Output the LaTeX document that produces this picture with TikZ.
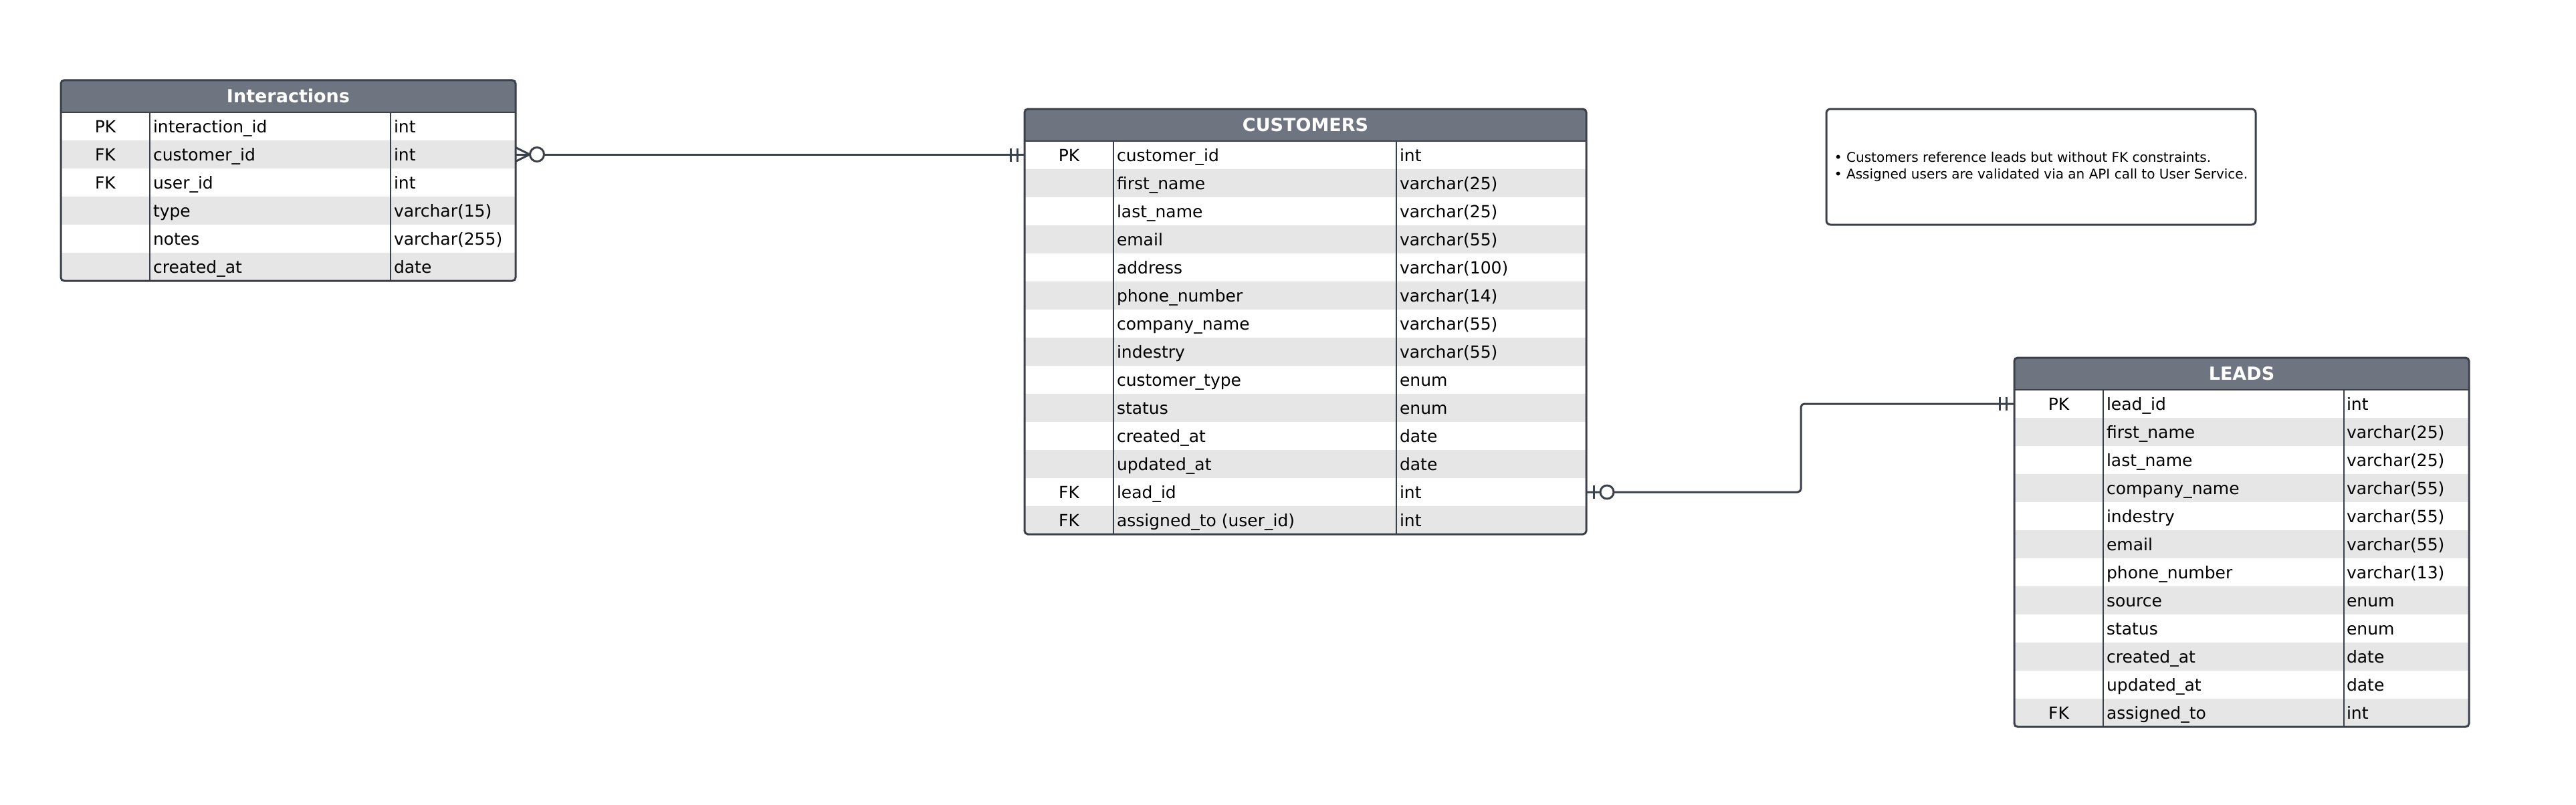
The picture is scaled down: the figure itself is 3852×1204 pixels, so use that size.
\documentclass[tikz,border=0pt]{standalone}
\usepackage{fontspec}
\setmainfont{DejaVu Sans}
\usetikzlibrary{positioning, calc}

\definecolor{hdrgray}{HTML}{6E7480}
\definecolor{edge}{HTML}{3B414B}
\definecolor{stripe}{HTML}{E6E6E6}

\begin{document}
\begin{tikzpicture}[x=1pt, y=-1pt,
    every node/.style={inner sep=0pt, outer sep=0pt},
    hdr/.style={fill=hdrgray, text=white, anchor=north west, minimum height=48pt,
        font=\fontsize{27pt}{32pt}\selectfont\bfseries, text height=19.7pt, text depth=0pt},
    band/.style={anchor=north, minimum height=42pt},
    cell/.style={font=\fontsize{25pt}{30pt}\selectfont, text height=18.2pt, text depth=0pt},
    fld/.style={cell, anchor=west},
    frame/.style={draw=edge, line width=3pt, rounded corners=5pt},
    colsep/.style={draw=edge, line width=2.4pt},
    rel/.style={draw=edge, line width=3pt, line join=round},
    note/.style={draw=edge, line width=3pt, rounded corners=6pt, minimum width=642pt,
        minimum height=173pt, align=left, font=\fontsize{20pt}{25.6pt}\selectfont}]

    \path[use as bounding box, fill=white] (0,0) rectangle (3852,1204);

    % Interactions
    \node[hdr, minimum width=680pt] (inter-0) at (91,120) {Interactions};
    \foreach \k/\f/\t [count=\i] in {PK/interaction\_id/int, FK/customer\_id/int,
        FK/user\_id/int, {}/type/varchar(15), {}/notes/varchar(255), {}/created\_at/date} {
        \pgfmathtruncatemacro\sh{100*(1-mod(\i,2))}
        \node[band, minimum width=680pt, fill=stripe!\sh!white] (inter-\i)
            at ([yshift={-42pt*(\i-1)}]inter-0.south) {};
        \node[cell] (inter-\i-k) at ([xshift=66.5pt]inter-\i.west) {\k};
        \node[fld] (inter-\i-f) at ([xshift=138pt]inter-\i.west) {\f};
        \node[fld] (inter-\i-t) at ([xshift=498pt]inter-\i.west) {\t};
    }
    \draw[colsep] (inter-0.south west) -- (inter-0.south east);
    \draw[colsep] ([xshift=133pt]inter-0.south west) -- ([xshift=133pt]inter-6.south west);
    \draw[colsep] ([xshift=493pt]inter-0.south west) -- ([xshift=493pt]inter-6.south west);
    \draw[frame] (inter-0.north west) rectangle (inter-6.south east);

    % Customers
    \node[hdr, minimum width=840pt] (cust-0) at (1532,163) {CUSTOMERS};
    \foreach \k/\f/\t [count=\i] in {PK/customer\_id/int, {}/first\_name/varchar(25),
        {}/last\_name/varchar(25), {}/email/varchar(55), {}/address/varchar(100),
        {}/phone\_number/varchar(14), {}/company\_name/varchar(55), {}/indestry/varchar(55),
        {}/customer\_type/enum, {}/status/enum, {}/created\_at/date, {}/updated\_at/date,
        FK/lead\_id/int, FK/assigned\_to (user\_id)/int} {
        \pgfmathtruncatemacro\sh{100*(1-mod(\i,2))}
        \node[band, minimum width=840pt, fill=stripe!\sh!white] (cust-\i)
            at ([yshift={-42pt*(\i-1)}]cust-0.south) {};
        \node[cell] (cust-\i-k) at ([xshift=66.5pt]cust-\i.west) {\k};
        \node[fld] (cust-\i-f) at ([xshift=138pt]cust-\i.west) {\f};
        \node[fld] (cust-\i-t) at ([xshift=561pt]cust-\i.west) {\t};
    }
    \draw[colsep] (cust-0.south west) -- (cust-0.south east);
    \draw[colsep] ([xshift=133pt]cust-0.south west) -- ([xshift=133pt]cust-14.south west);
    \draw[colsep] ([xshift=556pt]cust-0.south west) -- ([xshift=556pt]cust-14.south west);
    \draw[frame] (cust-0.north west) rectangle (cust-14.south east);

    % Leads
    \node[hdr, minimum width=680pt] (lead-0) at (3012,535) {LEADS};
    \foreach \k/\f/\t [count=\i] in {PK/lead\_id/int, {}/first\_name/varchar(25),
        {}/last\_name/varchar(25), {}/company\_name/varchar(55), {}/indestry/varchar(55),
        {}/email/varchar(55), {}/phone\_number/varchar(13), {}/source/enum, {}/status/enum,
        {}/created\_at/date, {}/updated\_at/date, FK/assigned\_to/int} {
        \pgfmathtruncatemacro\sh{100*(1-mod(\i,2))}
        \node[band, minimum width=680pt, fill=stripe!\sh!white] (lead-\i)
            at ([yshift={-42pt*(\i-1)}]lead-0.south) {};
        \node[cell] (lead-\i-k) at ([xshift=66.5pt]lead-\i.west) {\k};
        \node[fld] (lead-\i-f) at ([xshift=138pt]lead-\i.west) {\f};
        \node[fld] (lead-\i-t) at ([xshift=497pt]lead-\i.west) {\t};
    }
    \draw[colsep] (lead-0.south west) -- (lead-0.south east);
    \draw[colsep] ([xshift=133pt]lead-0.south west) -- ([xshift=133pt]lead-12.south west);
    \draw[colsep] ([xshift=493pt]lead-0.south west) -- ([xshift=493pt]lead-12.south west);
    \draw[frame] (lead-0.north west) rectangle (lead-12.south east);

    % note
    \node[note] (note) at (3052,249.5) {• Customers reference leads but without FK constraints.\\
        • Assigned users are validated via an API call to User Service.};

    % interactions >o----|| customers
    \draw[rel] (inter-2.east) -- (inter-2.east -| cust-1.west);
    \draw[rel] ([yshift=10.5pt]inter-2.east) -- ([xshift=21pt]inter-2.east)
        -- ([yshift=-10.5pt]inter-2.east);
    \draw[rel, fill=white] ([xshift=32pt]inter-2.east) circle[radius=10.5pt];
    \draw[rel] ([xshift=-11pt, yshift=10pt]cust-1.west) -- ([xshift=-11pt, yshift=-10pt]cust-1.west);
    \draw[rel] ([xshift=-21pt, yshift=10pt]cust-1.west) -- ([xshift=-21pt, yshift=-10pt]cust-1.west);

    % customers |o----|| leads
    \coordinate (bend) at (2693,0);
    \draw[rel, rounded corners=5pt] (cust-13.east) -- (cust-13.east -| bend)
        -- (bend |- lead-1.west) -- (lead-1.west);
    \draw[rel] ([xshift=11pt, yshift=10pt]cust-13.east) -- ([xshift=11pt, yshift=-10pt]cust-13.east);
    \draw[rel, fill=white] ([xshift=31pt]cust-13.east) circle[radius=10pt];
    \draw[rel] ([xshift=-12pt, yshift=10pt]lead-1.west) -- ([xshift=-12pt, yshift=-10pt]lead-1.west);
    \draw[rel] ([xshift=-22pt, yshift=10pt]lead-1.west) -- ([xshift=-22pt, yshift=-10pt]lead-1.west);
\end{tikzpicture}
\end{document}
